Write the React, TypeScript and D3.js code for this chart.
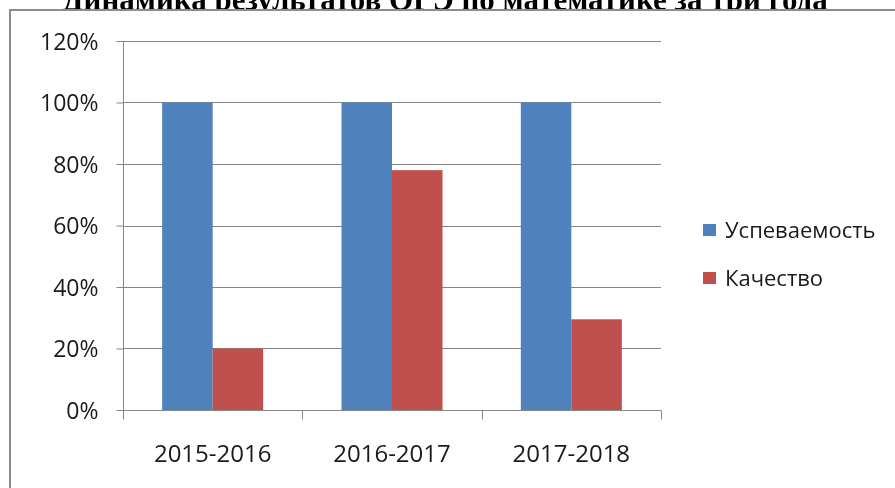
import { useEffect, useRef } from 'react'
import * as d3 from 'd3'

const YEARS = ['2015-2016', '2016-2017', '2017-2018']
const SERIES = ['Успеваемость', 'Качество']
const PASS_RATE = [1.0, 1.0, 1.0]
const QUALITY = [0.2, 0.78, 0.295]
const Y_TICKS = [0, 0.2, 0.4, 0.6, 0.8, 1.0, 1.2]
const COLORS = ['#4f81bd', '#c0504d']
const TITLE = 'Динамика результатов ОГЭ по математике за три года'

const FONT = '"Open Sans", "Noto Sans", sans-serif'
const AXIS_GREY = '#868686'

export default function App() {
  const svgRef = useRef<SVGSVGElement>(null)

  useEffect(() => {
    if (!svgRef.current) return
    const svg = d3.select(svgRef.current)
    svg.selectAll('*').remove()

    const W = 895
    const H = 488
    const plot = { left: 123, right: 661, top: 41, bottom: 410 }

    svg.attr('width', W).attr('height', H).attr('viewBox', `0 0 ${W} ${H}`)

    svg.append('rect').attr('width', W).attr('height', H).attr('fill', '#fff')

    // Title (its upper part sits above the page, lower part hidden by the chart box)
    svg.append('text')
      .attr('x', 445)
      .attr('y', 10)
      .attr('text-anchor', 'middle')
      .attr('font-family', '"Liberation Serif", "Times New Roman", serif')
      .attr('font-weight', 700)
      .attr('font-size', 31)
      .attr('fill', '#000')
      .text(TITLE)

    // Chart box
    svg.append('rect')
      .attr('x', 10)
      .attr('y', 10)
      .attr('width', W + 20)
      .attr('height', H + 20)
      .attr('fill', '#fff')
      .attr('stroke', '#8c8c8c')
      .attr('stroke-width', 2)

    const y = d3.scaleLinear().domain([0, 1.2]).range([plot.bottom, plot.top])
    const x = d3.scaleBand().domain(YEARS).range([plot.left, plot.right]).paddingInner(0).paddingOuter(0)
    const inner = d3.scaleBand().domain(SERIES)
      .range([0, x.bandwidth()])
      .paddingInner(0)
      .paddingOuter(0.775)

    // Gridlines
    svg.append('g')
      .selectAll('line')
      .data(Y_TICKS.filter((t) => t > 0))
      .join('line')
      .attr('x1', plot.left)
      .attr('x2', plot.right)
      .attr('y1', (d) => Math.round(y(d)) + 0.5)
      .attr('y2', (d) => Math.round(y(d)) + 0.5)
      .attr('stroke', AXIS_GREY)
      .attr('stroke-width', 1)

    // Bars
    const values = [PASS_RATE, QUALITY]
    SERIES.forEach((s, si) => {
      svg.append('g')
        .selectAll('rect')
        .data(YEARS.map((yr, i) => ({ yr, v: values[si][i] })))
        .join('rect')
        .attr('x', (d) => (x(d.yr) as number) + (inner(s) as number))
        .attr('y', (d) => y(d.v))
        .attr('width', inner.bandwidth())
        .attr('height', (d) => y(0) - y(d.v))
        .attr('fill', COLORS[si])
    })

    // Y axis
    const yAxis = svg.append('g')
      .attr('transform', `translate(${plot.left + 0.5},0)`)
      .call(d3.axisLeft(y).tickValues(Y_TICKS).tickFormat(d3.format('.0%')).tickSize(7).tickPadding(18))
    yAxis.select('.domain').attr('stroke', AXIS_GREY).attr('d', `M0,${plot.top}V${plot.bottom}`)
    yAxis.selectAll('.tick line').attr('stroke', AXIS_GREY)
    yAxis.selectAll('text')
      .attr('font-family', FONT)
      .attr('font-size', 23)
      .attr('fill', '#1a1a1a')
      .attr('dy', '0.35em')

    // X axis
    const xAxis = svg.append('g')
      .attr('transform', `translate(0,${plot.bottom + 0.5})`)
      .call(d3.axisBottom(x).tickSize(0).tickPadding(34))
    xAxis.select('.domain').attr('stroke', AXIS_GREY).attr('d', `M${plot.left},0H${plot.right}`)
    xAxis.selectAll('text')
      .attr('font-family', FONT)
      .attr('font-size', 24)
      .attr('fill', '#1a1a1a')
    // category boundary ticks
    xAxis.append('g')
      .selectAll('line')
      .data([...YEARS.map((d) => x(d) as number), plot.right])
      .join('line')
      .attr('x1', (d) => Math.round(d) + 0.5)
      .attr('x2', (d) => Math.round(d) + 0.5)
      .attr('y1', 0)
      .attr('y2', 9)
      .attr('stroke', AXIS_GREY)

    // Legend
    const legend = svg.append('g').attr('transform', 'translate(703,230)')
    SERIES.forEach((s, i) => {
      const g = legend.append('g').attr('transform', `translate(0,${i * 48})`)
      g.append('rect')
        .attr('x', 0)
        .attr('y', -6)
        .attr('width', 13)
        .attr('height', 12)
        .attr('fill', COLORS[i])
      g.append('text')
        .attr('x', 22)
        .attr('y', 0)
        .attr('dy', '0.35em')
        .attr('font-family', FONT)
        .attr('font-size', 22)
        .attr('fill', '#1a1a1a')
        .text(s)
    })
  }, [])

  return <svg ref={svgRef} style={{ position: 'fixed', left: 0, top: 0, display: 'block' }} />
}
